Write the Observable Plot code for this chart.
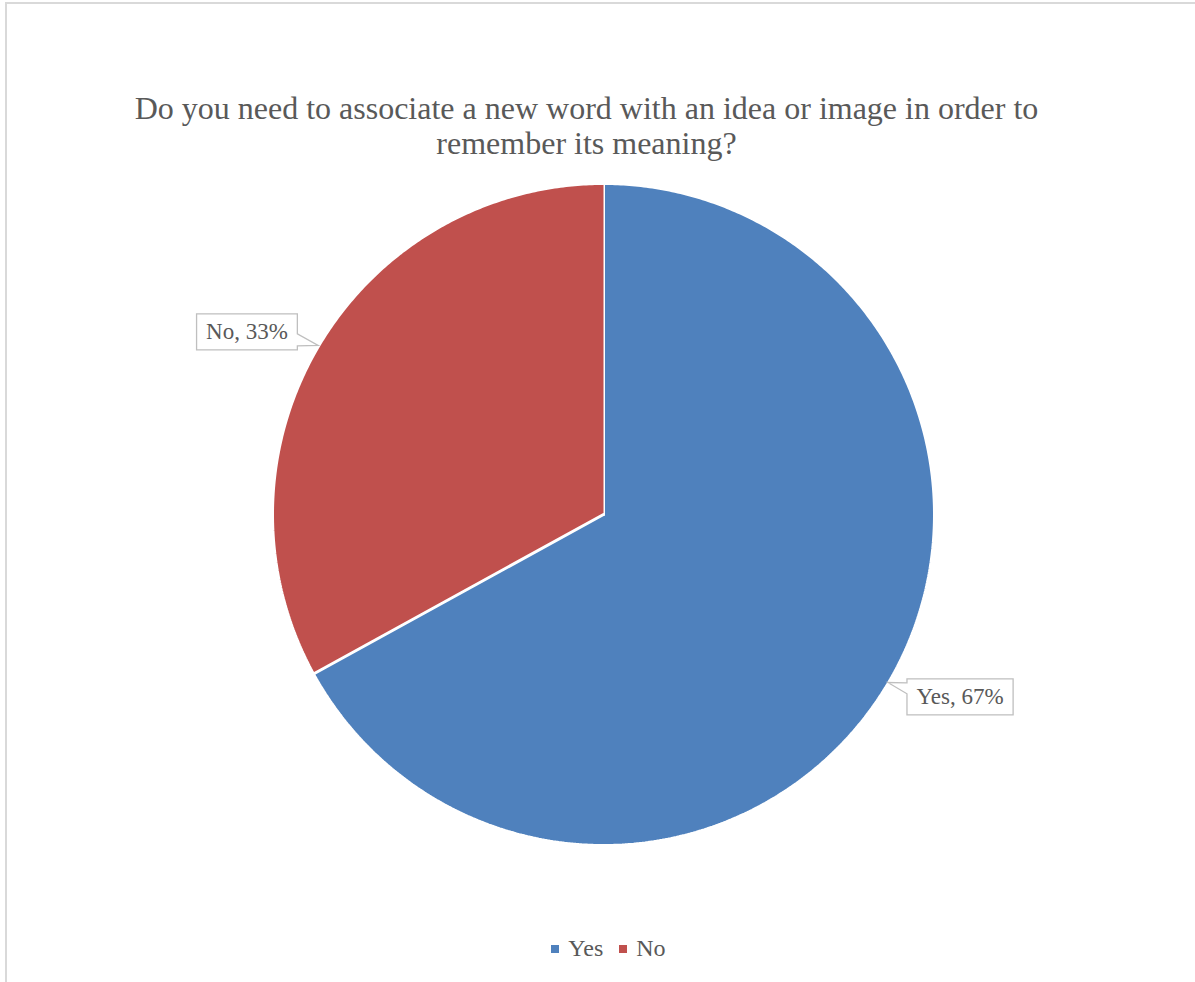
<!DOCTYPE html>
<html>
<head>
<meta charset="utf-8">
<script src="https://cdn.jsdelivr.net/npm/d3@7"></script>
<script src="https://cdn.jsdelivr.net/npm/@observablehq/plot@0.6"></script>
<style>
  html, body { margin: 0; padding: 0; background: #fff; overflow: hidden; }
  #wrap { position: relative; width: 1195px; height: 982px; overflow: hidden;
          font-family: "Liberation Serif", "Times New Roman", serif; color: #595959; }
  #frame { position: absolute; left: 5px; top: 2px; width: 1600px; height: 1200px;
           border-left: 2px solid #d9d9d9; border-top: 2px solid #d9d9d9; box-sizing: border-box; }
  #chart { position: absolute; left: 0; top: 0; }
  #title { position: absolute; left: 0; width: 1173px; top: 91px; text-align: center;
           font-family: "Liberation Serif", "Times New Roman", serif !important;
           font-size: 32px; line-height: 35px; color: #595959; white-space: nowrap; }
  #legend { position: absolute; left: 0; width: 1233px; top: 932px; display: flex; justify-content: center; }
  .lg-swatches { font-family: "Liberation Serif", "Times New Roman", serif !important; font-size: 24px !important; color: #595959 !important; }
  .lg-swatch { margin-right: 16px !important; }
  .lg-swatch > svg { margin-right: 9px !important; }
</style>
</head>
<body>
<div id="wrap">
  <div id="frame"></div>
  <div id="chart"></div>
  <div id="title"></div>
  <div id="legend"></div>
</div>
<script>
// ---- data ----
const categories = ["Yes", "No"];
const values = [67, 33];
const colors = ["#4F81BD", "#C0504D"];
const titleLines = [
  "Do you need to associate a new word with an idea or image in order to",
  "remember its meaning?"
];

// ---- derived slice geometry (unit circle, clockwise from top) ----
const total = d3.sum(values);
let acc = 0;
const slices = categories.map((c, i) => {
  const a0 = acc / total * 2 * Math.PI;
  acc += values[i];
  const a1 = acc / total * 2 * Math.PI;
  return { category: c, value: values[i], a0, a1, mid: (a0 + a1) / 2 };
});
const piePoints = [];
for (const s of slices) {
  piePoints.push({ category: s.category, x: 0, y: 0 });
  const n = Math.max(2, Math.ceil((s.a1 - s.a0) / (Math.PI / 360)));
  for (let k = 0; k <= n; k++) {
    const a = s.a0 + (s.a1 - s.a0) * k / n;
    piePoints.push({ category: s.category, x: Math.sin(a), y: Math.cos(a) });
  }
}
const labelRadius = 1.21, labelShift = -3.5 * Math.PI / 180;
const labels = slices.map(s => ({
  category: s.category,
  text: `${s.category}, ${Math.round(s.value / total * 100)}%`,
  x: Math.sin(s.mid + labelShift) * labelRadius,
  y: Math.cos(s.mid + labelShift) * labelRadius,
  mid: s.mid
}));

// ---- plot ----
const plot = Plot.plot({
  width: 1195, height: 982,
  marginLeft: 272, marginRight: 261, marginTop: 183, marginBottom: 137,
  x: { domain: [-1, 1], axis: null },
  y: { domain: [-1, 1], axis: null },
  color: { domain: categories, range: colors },
  style: { background: "transparent", fontFamily: "Liberation Serif, Times New Roman, serif", overflow: "visible" },
  marks: [
    Plot.line(piePoints, { x: "x", y: "y", z: "category", fill: "category", stroke: "white", strokeWidth: 3, strokeLinejoin: "miter" }),
    Plot.text(labels, { x: "x", y: "y", text: "text", fontSize: 23, fill: "#595959",
                        fontFamily: "Liberation Serif, Times New Roman, serif" })
  ]
});
document.getElementById("chart").appendChild(plot);

// title
const titleEl = document.getElementById("title");
titleLines.forEach(l => { const d = document.createElement("div"); d.textContent = l; titleEl.appendChild(d); });

// legend
document.getElementById("legend").appendChild(Plot.legend({
  legend: "swatches",
  color: { domain: categories, range: colors },
  swatchSize: 8,
  className: "lg"
}));

// callout boxes behind the labels
const xs = plot.scale("x"), ys = plot.scale("y");
const labelG = plot.querySelector('g[aria-label="text"]');
if (labelG) {
  const svgRect = plot.getBoundingClientRect();
  const boxG = document.createElementNS("http://www.w3.org/2000/svg", "g");
  labelG.parentNode.insertBefore(boxG, labelG);
  labelG.querySelectorAll("text").forEach((t, i) => {
    const r = t.getBoundingClientRect();
    const bx = r.left - svgRect.left, by = r.top - svgRect.top;
    const padX = 9.5;
    const x0 = bx - padX, x1 = bx + r.width + padX;
    const cy = by + r.height / 2, h = 36;
    const y0 = cy - h / 2, y1 = cy + h / 2;
    const tip = [xs.apply(Math.sin(labels[i].mid)), ys.apply(Math.cos(labels[i].mid))];
    const right = tip[0] > x1;
    const bottom = tip[1] > cy;
    let pts;
    if (right && bottom) pts = [[x0,y0],[x1,y0],[x1,y1-16],tip,[x1,y1-4],[x1,y1],[x0,y1]];
    else if (right && !bottom) pts = [[x0,y0],[x1,y0],[x1,y0+4],tip,[x1,y0+15],[x1,y1],[x0,y1]];
    else if (!right && !bottom) pts = [[x0,y0],[x1,y0],[x1,y1],[x0,y1],[x0,y0+15],tip,[x0,y0+4]];
    else pts = [[x0,y0],[x1,y0],[x1,y1],[x0,y1],[x0,y1-4],tip,[x0,y1-16]];
    const p = document.createElementNS("http://www.w3.org/2000/svg", "path");
    p.setAttribute("d", "M" + pts.map(q => q.join(",")).join("L") + "Z");
    p.setAttribute("fill", "white");
    p.setAttribute("stroke", "#bfbfbf");
    p.setAttribute("stroke-width", "1.3");
    boxG.appendChild(p);
  });
}
</script>
</body>
</html>
